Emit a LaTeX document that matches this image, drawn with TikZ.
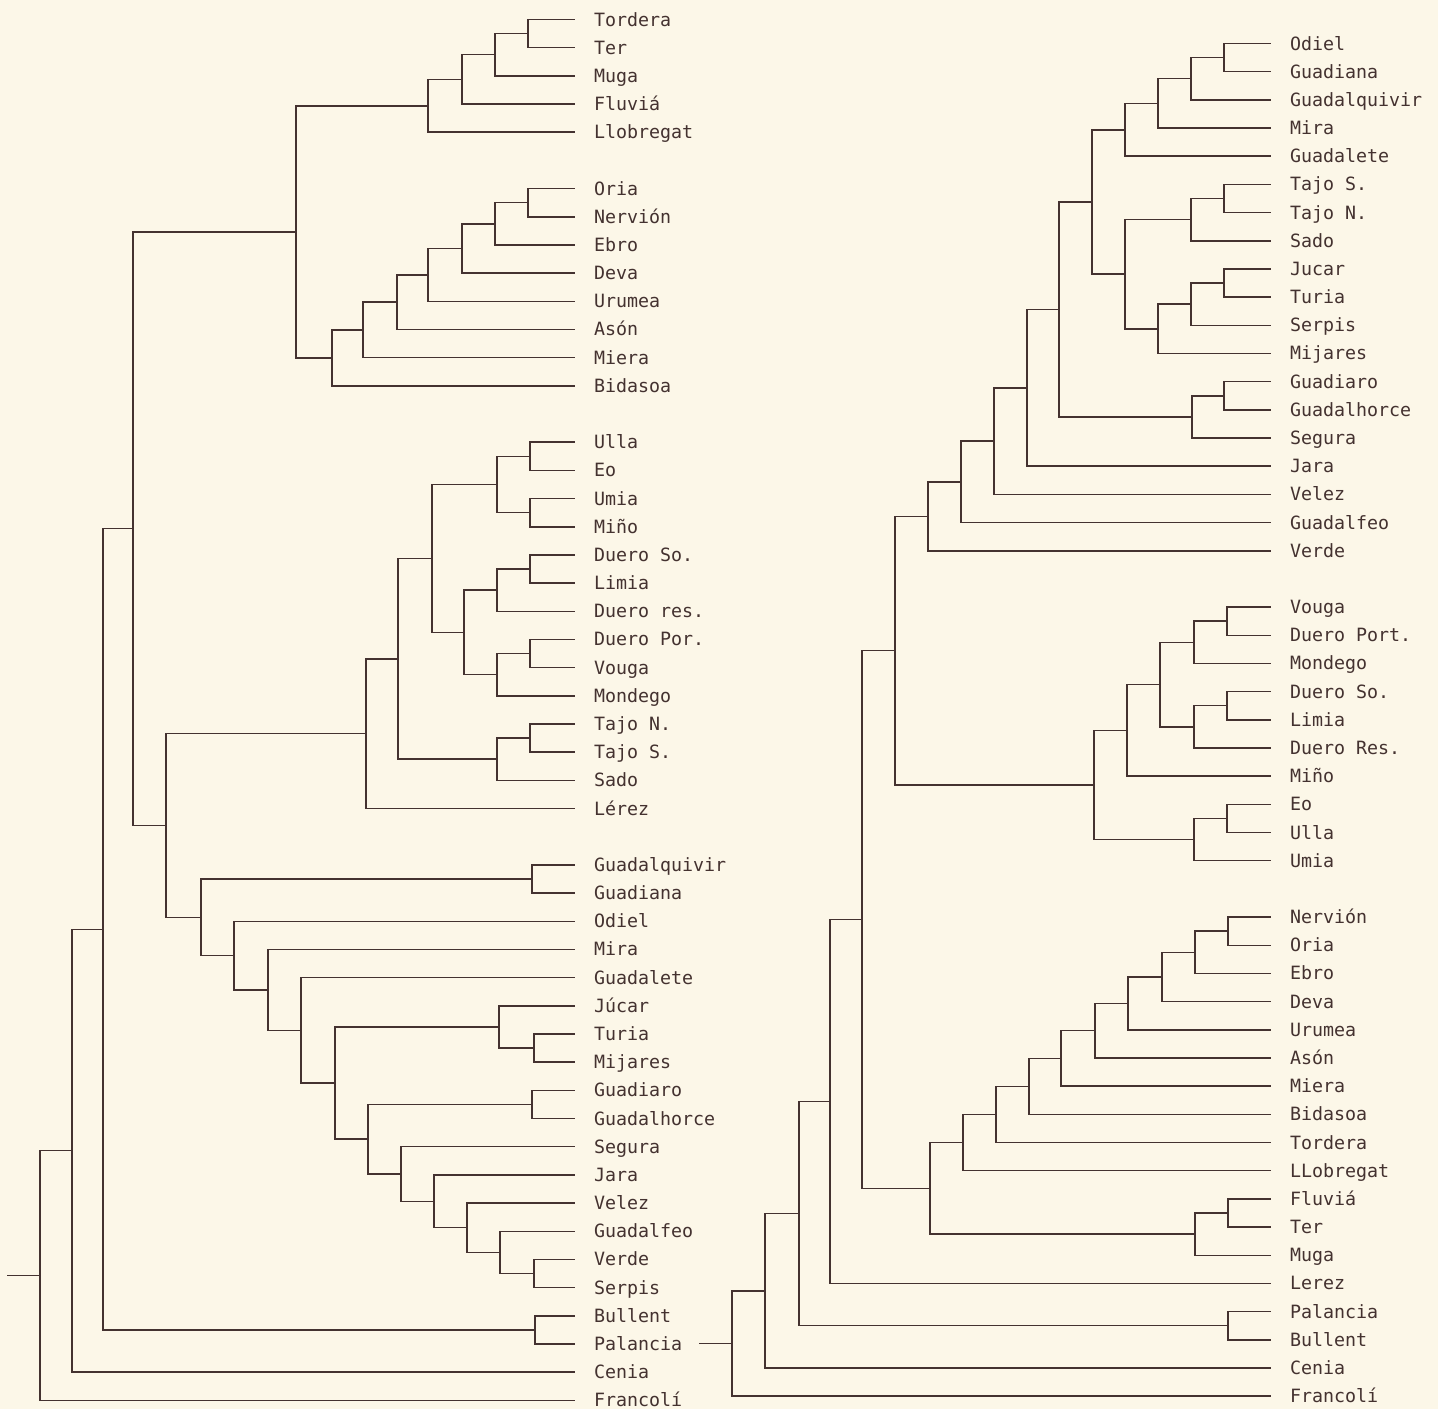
\documentclass[tikz,border=0pt]{standalone}
\usepackage{fontspec}
\usepackage{tikz}
\newfontfamily\rivfont{DejaVu Sans Mono}
\definecolor{ink}{RGB}{68,50,48}
\definecolor{paper}{RGB}{252,247,232}

\begin{document}
\begin{tikzpicture}[x=1pt,y=-28.18pt,
                    link/.style={draw=ink, line width=1.5pt},
                    leaf/.style={anchor=west, inner xsep=0pt, inner ysep=0pt, outer xsep=19pt, outer ysep=0pt,
                                 text height=13pt, text depth=0pt, text=ink, font=\rivfont\fontsize{18.3}{20}\selectfont}]
                        \fill[paper] (0,-0.692) rectangle (1438,49.308);
                        \useasboundingbox (0,-0.692) rectangle (1438,49.308);

                        % Left tree: leaves
                        \node[leaf] (lTordera) at (575,0) {Tordera};
                        \node[leaf] (lTer) at (575,1) {Ter};
                        \node[leaf] (lMuga) at (575,2) {Muga};
                        \node[leaf] (lFluvia) at (575,3) {Fluviá};
                        \node[leaf] (lLlobregat) at (575,4) {Llobregat};
                        \node[leaf] (lOria) at (575,6) {Oria};
                        \node[leaf] (lNervion) at (575,7) {Nervión};
                        \node[leaf] (lEbro) at (575,8) {Ebro};
                        \node[leaf] (lDeva) at (575,9) {Deva};
                        \node[leaf] (lUrumea) at (575,10) {Urumea};
                        \node[leaf] (lAson) at (575,11) {Asón};
                        \node[leaf] (lMiera) at (575,12) {Miera};
                        \node[leaf] (lBidasoa) at (575,13) {Bidasoa};
                        \node[leaf] (lUlla) at (575,15) {Ulla};
                        \node[leaf] (lEo) at (575,16) {Eo};
                        \node[leaf] (lUmia) at (575,17) {Umia};
                        \node[leaf] (lMino) at (575,18) {Miño};
                        \node[leaf] (lDueroSo) at (575,19) {Duero So.};
                        \node[leaf] (lLimia) at (575,20) {Limia};
                        \node[leaf] (lDueroRes) at (575,21) {Duero res.};
                        \node[leaf] (lDueroPor) at (575,22) {Duero Por.};
                        \node[leaf] (lVouga) at (575,23) {Vouga};
                        \node[leaf] (lMondego) at (575,24) {Mondego};
                        \node[leaf] (lTajoN) at (575,25) {Tajo N.};
                        \node[leaf] (lTajoS) at (575,26) {Tajo S.};
                        \node[leaf] (lSado) at (575,27) {Sado};
                        \node[leaf] (lLerez) at (575,28) {Lérez};
                        \node[leaf] (lGuadalquivir) at (575,30) {Guadalquivir};
                        \node[leaf] (lGuadiana) at (575,31) {Guadiana};
                        \node[leaf] (lOdiel) at (575,32) {Odiel};
                        \node[leaf] (lMira) at (575,33) {Mira};
                        \node[leaf] (lGuadalete) at (575,34) {Guadalete};
                        \node[leaf] (lJucar) at (575,35) {Júcar};
                        \node[leaf] (lTuria) at (575,36) {Turia};
                        \node[leaf] (lMijares) at (575,37) {Mijares};
                        \node[leaf] (lGuadiaro) at (575,38) {Guadiaro};
                        \node[leaf] (lGuadalhorce) at (575,39) {Guadalhorce};
                        \node[leaf] (lSegura) at (575,40) {Segura};
                        \node[leaf] (lJara) at (575,41) {Jara};
                        \node[leaf] (lVelez) at (575,42) {Velez};
                        \node[leaf] (lGuadalfeo) at (575,43) {Guadalfeo};
                        \node[leaf] (lVerde) at (575,44) {Verde};
                        \node[leaf] (lSerpis) at (575,45) {Serpis};
                        \node[leaf] (lBullent) at (575,46) {Bullent};
                        \node[leaf] (lPalancia) at (575,47) {Palancia};
                        \node[leaf] (lCenia) at (575,48) {Cenia};
                        \node[leaf] (lFrancoli) at (575,49) {Francolí};

                        % Left tree: joins
                        \coordinate (lc1) at (528,0.5);
                        \coordinate (lc2) at (495,1.25);
                        \coordinate (lc3) at (462,2.125);
                        \coordinate (lc4) at (428,3.063);
                        \coordinate (lb1) at (528,6.5);
                        \coordinate (lb2) at (495,7.25);
                        \coordinate (lb3) at (462,8.125);
                        \coordinate (lb4) at (428,9.063);
                        \coordinate (lb5) at (397,10.031);
                        \coordinate (lb6) at (363,11.016);
                        \coordinate (lb7) at (332,12.008);
                        \coordinate (lt1) at (296,7.535);
                        \coordinate (lg1) at (530,15.5);
                        \coordinate (lg2) at (530,17.5);
                        \coordinate (lg3) at (497,16.5);
                        \coordinate (lg4) at (530,19.5);
                        \coordinate (lg5) at (497,20.25);
                        \coordinate (lg6) at (530,22.5);
                        \coordinate (lg7) at (497,23.25);
                        \coordinate (lg8) at (464,21.75);
                        \coordinate (lg9) at (432,19.125);
                        \coordinate (lg10) at (530,25.5);
                        \coordinate (lg11) at (497,26.25);
                        \coordinate (lg12) at (398,22.688);
                        \coordinate (lg13) at (366,25.344);
                        \coordinate (ls1) at (532,30.5);
                        \coordinate (ls2) at (534,36.5);
                        \coordinate (ls3) at (499,35.75);
                        \coordinate (ls4) at (532,38.5);
                        \coordinate (ls5) at (534,44.5);
                        \coordinate (ls6) at (500,43.75);
                        \coordinate (ls7) at (467,42.875);
                        \coordinate (ls8) at (434,41.938);
                        \coordinate (ls9) at (401,40.969);
                        \coordinate (ls10) at (368,39.734);
                        \coordinate (ls11) at (335,37.742);
                        \coordinate (ls12) at (301,35.871);
                        \coordinate (ls13) at (268,34.436);
                        \coordinate (ls14) at (234,33.218);
                        \coordinate (ls15) at (201,31.859);
                        \coordinate (lm1) at (166,28.601);
                        \coordinate (lm2) at (133,18.068);
                        \coordinate (lp1) at (535,46.5);
                        \coordinate (lm3) at (103,32.284);
                        \coordinate (lm4) at (72,40.142);
                        \coordinate (lm5) at (40,44.571);
                        \coordinate (lstub) at (7,44.571);

                        % Left tree: edges
                        \draw[link] (lc1) |- (lTordera) (lc1) |- (lTer);
                        \draw[link] (lc2) |- (lc1) (lc2) |- (lMuga);
                        \draw[link] (lc3) |- (lc2) (lc3) |- (lFluvia);
                        \draw[link] (lc4) |- (lc3) (lc4) |- (lLlobregat);
                        \draw[link] (lb1) |- (lOria) (lb1) |- (lNervion);
                        \draw[link] (lb2) |- (lb1) (lb2) |- (lEbro);
                        \draw[link] (lb3) |- (lb2) (lb3) |- (lDeva);
                        \draw[link] (lb4) |- (lb3) (lb4) |- (lUrumea);
                        \draw[link] (lb5) |- (lb4) (lb5) |- (lAson);
                        \draw[link] (lb6) |- (lb5) (lb6) |- (lMiera);
                        \draw[link] (lb7) |- (lb6) (lb7) |- (lBidasoa);
                        \draw[link] (lt1) |- (lc4) (lt1) |- (lb7);

                        \draw[link] (lg1) |- (lUlla) (lg1) |- (lEo);
                        \draw[link] (lg2) |- (lUmia) (lg2) |- (lMino);
                        \draw[link] (lg3) |- (lg1) (lg3) |- (lg2);
                        \draw[link] (lg4) |- (lDueroSo) (lg4) |- (lLimia);
                        \draw[link] (lg5) |- (lg4) (lg5) |- (lDueroRes);
                        \draw[link] (lg6) |- (lDueroPor) (lg6) |- (lVouga);
                        \draw[link] (lg7) |- (lg6) (lg7) |- (lMondego);
                        \draw[link] (lg8) |- (lg5) (lg8) |- (lg7);
                        \draw[link] (lg9) |- (lg3) (lg9) |- (lg8);
                        \draw[link] (lg10) |- (lTajoN) (lg10) |- (lTajoS);
                        \draw[link] (lg11) |- (lg10) (lg11) |- (lSado);
                        \draw[link] (lg12) |- (lg9) (lg12) |- (lg11);
                        \draw[link] (lg13) |- (lg12) (lg13) |- (lLerez);

                        \draw[link] (ls1) |- (lGuadalquivir) (ls1) |- (lGuadiana);
                        \draw[link] (ls2) |- (lTuria) (ls2) |- (lMijares);
                        \draw[link] (ls3) |- (lJucar) (ls3) |- (ls2);
                        \draw[link] (ls4) |- (lGuadiaro) (ls4) |- (lGuadalhorce);
                        \draw[link] (ls5) |- (lVerde) (ls5) |- (lSerpis);
                        \draw[link] (ls6) |- (lGuadalfeo) (ls6) |- (ls5);
                        \draw[link] (ls7) |- (lVelez) (ls7) |- (ls6);
                        \draw[link] (ls8) |- (lJara) (ls8) |- (ls7);
                        \draw[link] (ls9) |- (lSegura) (ls9) |- (ls8);
                        \draw[link] (ls10) |- (ls4) (ls10) |- (ls9);
                        \draw[link] (ls11) |- (ls3) (ls11) |- (ls10);
                        \draw[link] (ls12) |- (lGuadalete) (ls12) |- (ls11);
                        \draw[link] (ls13) |- (lMira) (ls13) |- (ls12);
                        \draw[link] (ls14) |- (lOdiel) (ls14) |- (ls13);
                        \draw[link] (ls15) |- (ls1) (ls15) |- (ls14);

                        \draw[link] (lm1) |- (lg13) (lm1) |- (ls15);
                        \draw[link] (lm2) |- (lt1) (lm2) |- (lm1);
                        \draw[link] (lp1) |- (lBullent) (lp1) |- (lPalancia);
                        \draw[link] (lm3) |- (lm2) (lm3) |- (lp1);
                        \draw[link] (lm4) |- (lm3) (lm4) |- (lCenia);
                        \draw[link] (lm5) |- (lm4) (lm5) |- (lFrancoli);
                        \draw[link] (lstub) -- (lm5);

                        \begin{scope}[yshift=-24pt]
                        % Right tree: leaves
                        \node[leaf] (rOdiel) at (1271,0) {Odiel};
                        \node[leaf] (rGuadiana) at (1271,1) {Guadiana};
                        \node[leaf] (rGuadalquivir) at (1271,2) {Guadalquivir};
                        \node[leaf] (rMira) at (1271,3) {Mira};
                        \node[leaf] (rGuadalete) at (1271,4) {Guadalete};
                        \node[leaf] (rTajoS) at (1271,5) {Tajo S.};
                        \node[leaf] (rTajoN) at (1271,6) {Tajo N.};
                        \node[leaf] (rSado) at (1271,7) {Sado};
                        \node[leaf] (rJucar) at (1271,8) {Jucar};
                        \node[leaf] (rTuria) at (1271,9) {Turia};
                        \node[leaf] (rSerpis) at (1271,10) {Serpis};
                        \node[leaf] (rMijares) at (1271,11) {Mijares};
                        \node[leaf] (rGuadiaro) at (1271,12) {Guadiaro};
                        \node[leaf] (rGuadalhorce) at (1271,13) {Guadalhorce};
                        \node[leaf] (rSegura) at (1271,14) {Segura};
                        \node[leaf] (rJara) at (1271,15) {Jara};
                        \node[leaf] (rVelez) at (1271,16) {Velez};
                        \node[leaf] (rGuadalfeo) at (1271,17) {Guadalfeo};
                        \node[leaf] (rVerde) at (1271,18) {Verde};
                        \node[leaf] (rVouga) at (1271,20) {Vouga};
                        \node[leaf] (rDueroPort) at (1271,21) {Duero Port.};
                        \node[leaf] (rMondego) at (1271,22) {Mondego};
                        \node[leaf] (rDueroSo) at (1271,23) {Duero So.};
                        \node[leaf] (rLimia) at (1271,24) {Limia};
                        \node[leaf] (rDueroRes) at (1271,25) {Duero Res.};
                        \node[leaf] (rMino) at (1271,26) {Miño};
                        \node[leaf] (rEo) at (1271,27) {Eo};
                        \node[leaf] (rUlla) at (1271,28) {Ulla};
                        \node[leaf] (rUmia) at (1271,29) {Umia};
                        \node[leaf] (rNervion) at (1271,31) {Nervión};
                        \node[leaf] (rOria) at (1271,32) {Oria};
                        \node[leaf] (rEbro) at (1271,33) {Ebro};
                        \node[leaf] (rDeva) at (1271,34) {Deva};
                        \node[leaf] (rUrumea) at (1271,35) {Urumea};
                        \node[leaf] (rAson) at (1271,36) {Asón};
                        \node[leaf] (rMiera) at (1271,37) {Miera};
                        \node[leaf] (rBidasoa) at (1271,38) {Bidasoa};
                        \node[leaf] (rTordera) at (1271,39) {Tordera};
                        \node[leaf] (rLlobregat) at (1271,40) {LLobregat};
                        \node[leaf] (rFluvia) at (1271,41) {Fluviá};
                        \node[leaf] (rTer) at (1271,42) {Ter};
                        \node[leaf] (rMuga) at (1271,43) {Muga};
                        \node[leaf] (rLerez) at (1271,44) {Lerez};
                        \node[leaf] (rPalancia) at (1271,45) {Palancia};
                        \node[leaf] (rBullent) at (1271,46) {Bullent};
                        \node[leaf] (rCenia) at (1271,47) {Cenia};
                        \node[leaf] (rFrancoli) at (1271,48) {Francolí};

                        % Right tree: joins
                        \coordinate (rs1) at (1224,0.5);
                        \coordinate (rs2) at (1191,1.25);
                        \coordinate (rs3) at (1158,2.125);
                        \coordinate (rs4) at (1125,3.063);
                        \coordinate (rs5) at (1224,5.5);
                        \coordinate (rs6) at (1191,6.25);
                        \coordinate (rs7) at (1224,8.5);
                        \coordinate (rs8) at (1191,9.25);
                        \coordinate (rs9) at (1158,10.125);
                        \coordinate (rs10) at (1125,8.188);
                        \coordinate (rs11) at (1092,5.625);
                        \coordinate (rs12) at (1224,12.5);
                        \coordinate (rs13) at (1192,13.25);
                        \coordinate (rs14) at (1059,9.438);
                        \coordinate (rs15) at (1027,12.219);
                        \coordinate (rs16) at (994,14.109);
                        \coordinate (rs17) at (961,15.555);
                        \coordinate (rs18) at (928,16.777);
                        \coordinate (rw1) at (1227,20.5);
                        \coordinate (rw2) at (1194,21.25);
                        \coordinate (rw3) at (1227,23.5);
                        \coordinate (rw4) at (1194,24.25);
                        \coordinate (rw5) at (1160,22.75);
                        \coordinate (rw6) at (1127,24.375);
                        \coordinate (rw7) at (1227,27.5);
                        \coordinate (rw8) at (1194,28.25);
                        \coordinate (rw9) at (1094,26.313);
                        \coordinate (rx1) at (895,21.545);
                        \coordinate (rn1) at (1228,31.5);
                        \coordinate (rn2) at (1195,32.25);
                        \coordinate (rn3) at (1162,33.125);
                        \coordinate (rn4) at (1128,34.063);
                        \coordinate (rn5) at (1095,35.031);
                        \coordinate (rn6) at (1061,36.016);
                        \coordinate (rn7) at (1029,37.008);
                        \coordinate (rn8) at (996,38.004);
                        \coordinate (rn9) at (963,39.002);
                        \coordinate (rn10) at (1228,41.5);
                        \coordinate (rn11) at (1195,42.25);
                        \coordinate (rn12) at (930,40.626);
                        \coordinate (rx2) at (862,31.086);
                        \coordinate (rx3) at (830,37.543);
                        \coordinate (rp1) at (1228,45.5);
                        \coordinate (rx4) at (799,41.521);
                        \coordinate (rx5) at (765,44.261);
                        \coordinate (rx6) at (732,46.130);
                        \coordinate (rstub) at (699,46.130);

                        % Right tree: edges
                        \draw[link] (rs1) |- (rOdiel) (rs1) |- (rGuadiana);
                        \draw[link] (rs2) |- (rs1) (rs2) |- (rGuadalquivir);
                        \draw[link] (rs3) |- (rs2) (rs3) |- (rMira);
                        \draw[link] (rs4) |- (rs3) (rs4) |- (rGuadalete);
                        \draw[link] (rs5) |- (rTajoS) (rs5) |- (rTajoN);
                        \draw[link] (rs6) |- (rs5) (rs6) |- (rSado);
                        \draw[link] (rs7) |- (rJucar) (rs7) |- (rTuria);
                        \draw[link] (rs8) |- (rs7) (rs8) |- (rSerpis);
                        \draw[link] (rs9) |- (rs8) (rs9) |- (rMijares);
                        \draw[link] (rs10) |- (rs6) (rs10) |- (rs9);
                        \draw[link] (rs11) |- (rs4) (rs11) |- (rs10);
                        \draw[link] (rs12) |- (rGuadiaro) (rs12) |- (rGuadalhorce);
                        \draw[link] (rs13) |- (rs12) (rs13) |- (rSegura);
                        \draw[link] (rs14) |- (rs11) (rs14) |- (rs13);
                        \draw[link] (rs15) |- (rs14) (rs15) |- (rJara);
                        \draw[link] (rs16) |- (rs15) (rs16) |- (rVelez);
                        \draw[link] (rs17) |- (rs16) (rs17) |- (rGuadalfeo);
                        \draw[link] (rs18) |- (rs17) (rs18) |- (rVerde);

                        \draw[link] (rw1) |- (rVouga) (rw1) |- (rDueroPort);
                        \draw[link] (rw2) |- (rw1) (rw2) |- (rMondego);
                        \draw[link] (rw3) |- (rDueroSo) (rw3) |- (rLimia);
                        \draw[link] (rw4) |- (rw3) (rw4) |- (rDueroRes);
                        \draw[link] (rw5) |- (rw2) (rw5) |- (rw4);
                        \draw[link] (rw6) |- (rw5) (rw6) |- (rMino);
                        \draw[link] (rw7) |- (rEo) (rw7) |- (rUlla);
                        \draw[link] (rw8) |- (rw7) (rw8) |- (rUmia);
                        \draw[link] (rw9) |- (rw6) (rw9) |- (rw8);
                        \draw[link] (rx1) |- (rs18) (rx1) |- (rw9);

                        \draw[link] (rn1) |- (rNervion) (rn1) |- (rOria);
                        \draw[link] (rn2) |- (rn1) (rn2) |- (rEbro);
                        \draw[link] (rn3) |- (rn2) (rn3) |- (rDeva);
                        \draw[link] (rn4) |- (rn3) (rn4) |- (rUrumea);
                        \draw[link] (rn5) |- (rn4) (rn5) |- (rAson);
                        \draw[link] (rn6) |- (rn5) (rn6) |- (rMiera);
                        \draw[link] (rn7) |- (rn6) (rn7) |- (rBidasoa);
                        \draw[link] (rn8) |- (rn7) (rn8) |- (rTordera);
                        \draw[link] (rn9) |- (rn8) (rn9) |- (rLlobregat);
                        \draw[link] (rn10) |- (rFluvia) (rn10) |- (rTer);
                        \draw[link] (rn11) |- (rn10) (rn11) |- (rMuga);
                        \draw[link] (rn12) |- (rn9) (rn12) |- (rn11);

                        \draw[link] (rx2) |- (rx1) (rx2) |- (rn12);
                        \draw[link] (rx3) |- (rx2) (rx3) |- (rLerez);
                        \draw[link] (rp1) |- (rPalancia) (rp1) |- (rBullent);
                        \draw[link] (rx4) |- (rx3) (rx4) |- (rp1);
                        \draw[link] (rx5) |- (rx4) (rx5) |- (rCenia);
                        \draw[link] (rx6) |- (rx5) (rx6) |- (rFrancoli);
                        \draw[link] (rstub) -- (rx6);
                        \end{scope}
                    \end{tikzpicture}
\end{document}
